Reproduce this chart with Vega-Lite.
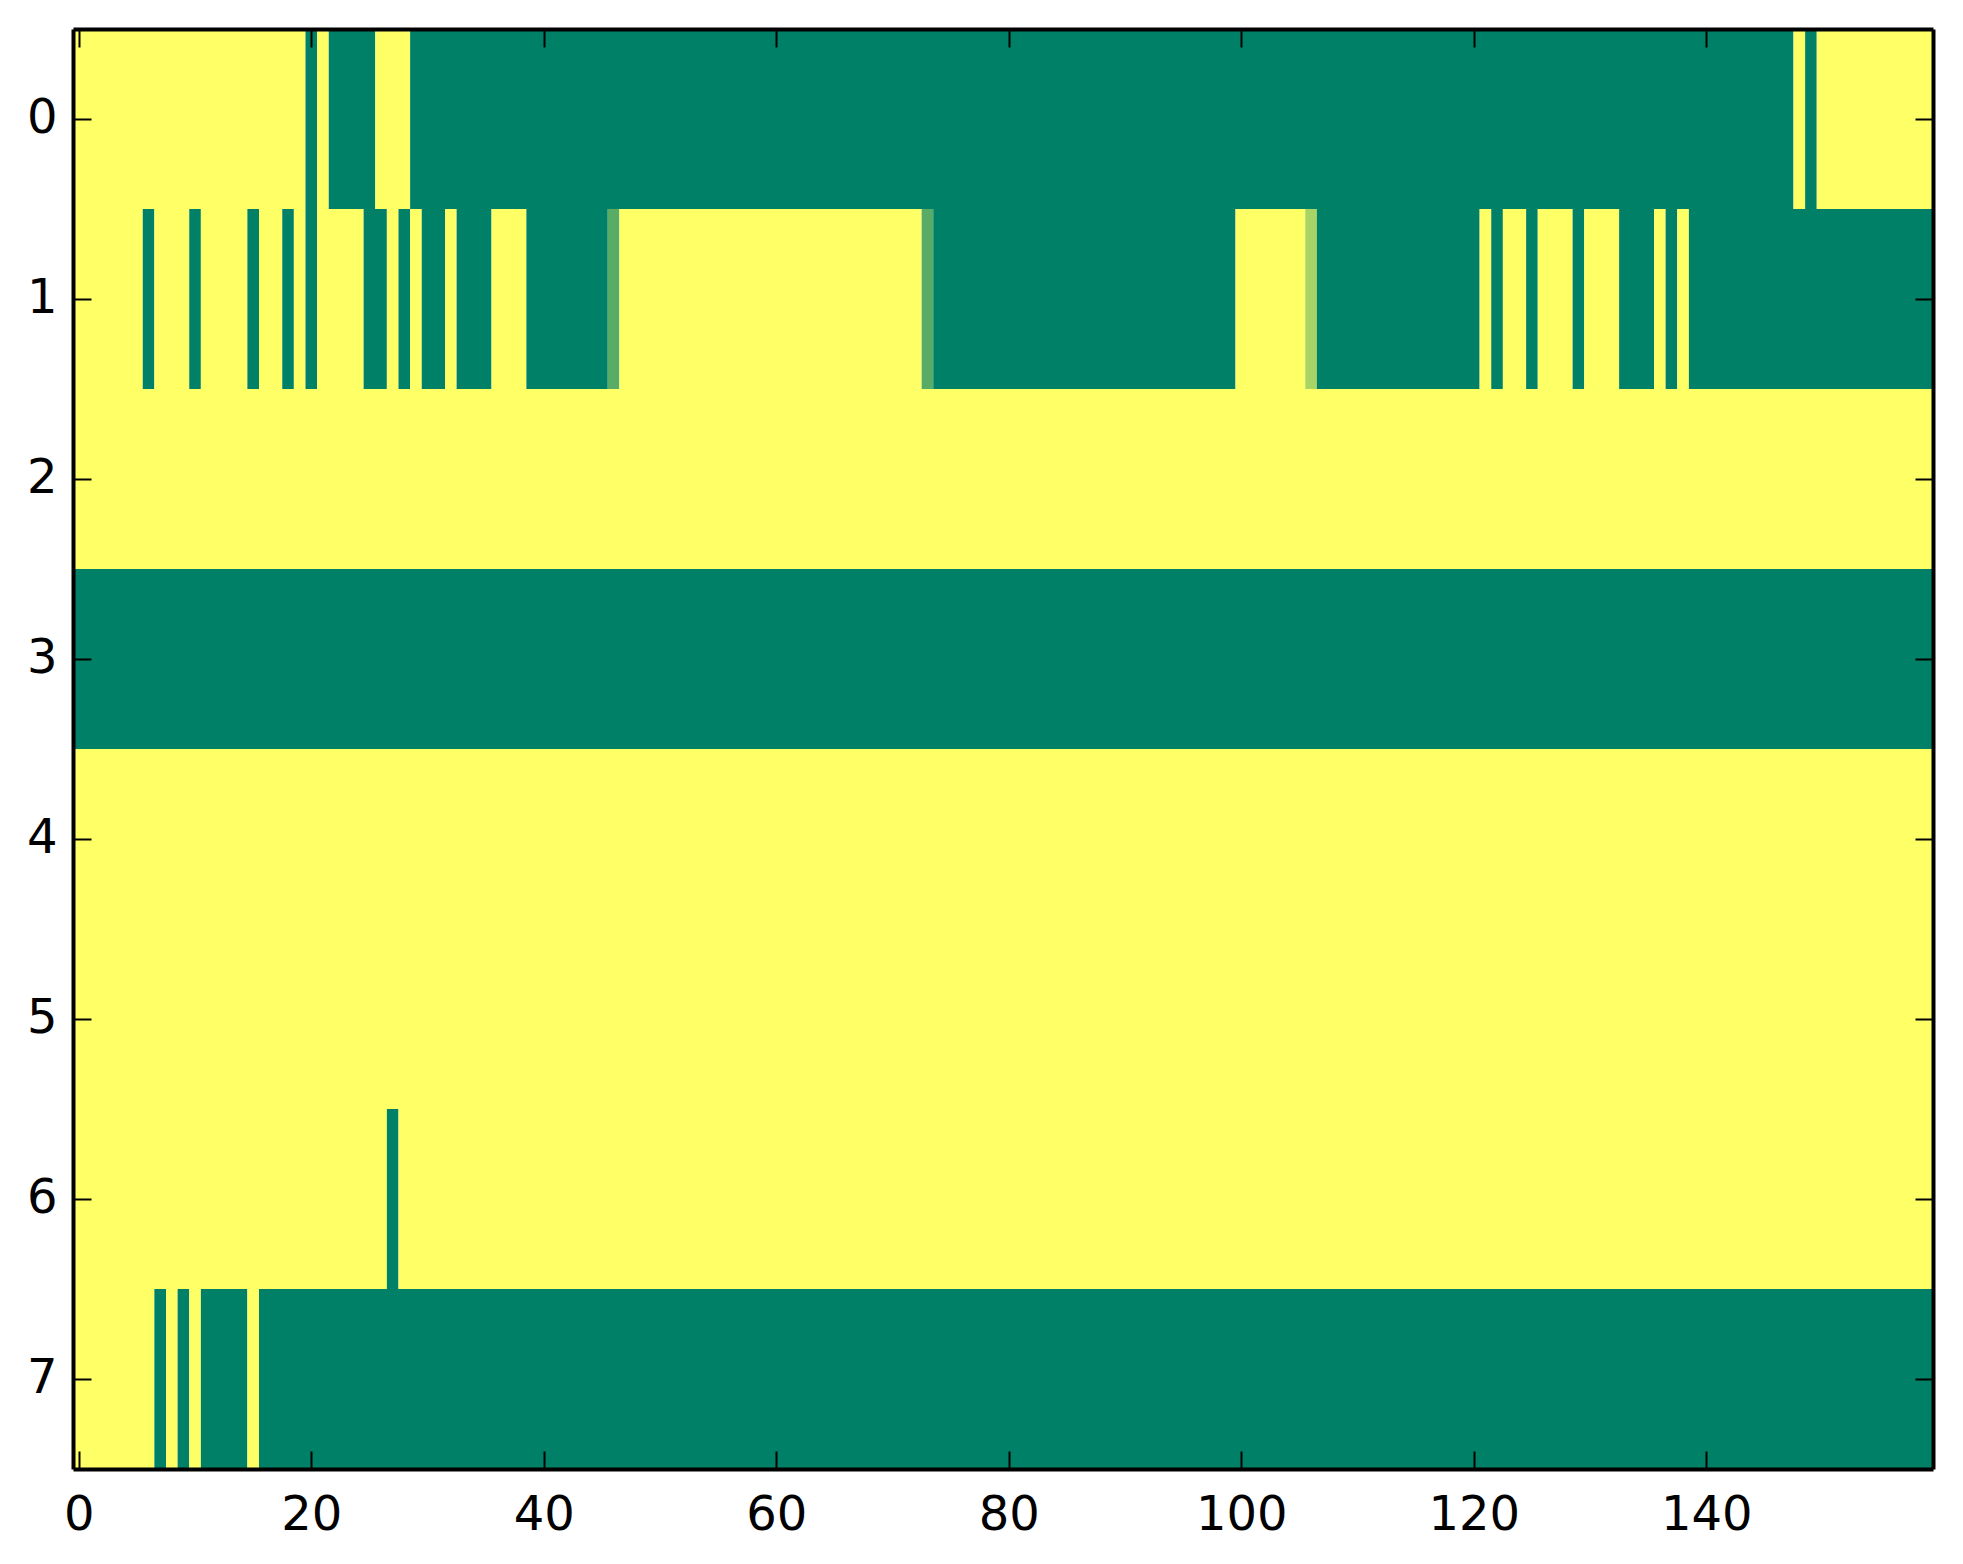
{
  "$schema": "https://vega.github.io/schema/vega-lite/v6.json",
  "autosize": {"type": "none"},
  "padding": {"left": 73, "top": 29, "right": 30, "bottom": 95},
  "width": 1860,
  "height": 1440,
  "background": "white",
  "config": {
    "view": {"stroke": null},
    "axis": {
      "labelFont": "DejaVu Sans",
      "labelFontSize": 48,
      "labelColor": "black",
      "tickColor": "black",
      "tickWidth": 2,
      "tickSize": -18,
      "domain": true,
      "domainColor": "black",
      "domainWidth": 4,
      "grid": false,
      "title": null
    }
  },
  "data": {
    "values": [
      {"row": 0, "x0": -0.5, "x1": 19.5, "v": 1},
      {"row": 0, "x0": 19.5, "x1": 20.5, "v": 0},
      {"row": 0, "x0": 20.5, "x1": 21.5, "v": 1},
      {"row": 0, "x0": 21.5, "x1": 25.5, "v": 0},
      {"row": 0, "x0": 25.5, "x1": 28.5, "v": 1},
      {"row": 0, "x0": 28.5, "x1": 147.5, "v": 0},
      {"row": 0, "x0": 147.5, "x1": 148.5, "v": 1},
      {"row": 0, "x0": 148.5, "x1": 149.5, "v": 0},
      {"row": 0, "x0": 149.5, "x1": 159.5, "v": 1},

      {"row": 1, "x0": -0.5, "x1": 5.5, "v": 1},
      {"row": 1, "x0": 5.5, "x1": 6.5, "v": 0},
      {"row": 1, "x0": 6.5, "x1": 9.5, "v": 1},
      {"row": 1, "x0": 9.5, "x1": 10.5, "v": 0},
      {"row": 1, "x0": 10.5, "x1": 14.5, "v": 1},
      {"row": 1, "x0": 14.5, "x1": 15.5, "v": 0},
      {"row": 1, "x0": 15.5, "x1": 17.5, "v": 1},
      {"row": 1, "x0": 17.5, "x1": 18.5, "v": 0},
      {"row": 1, "x0": 18.5, "x1": 19.5, "v": 1},
      {"row": 1, "x0": 19.5, "x1": 20.5, "v": 0},
      {"row": 1, "x0": 20.5, "x1": 24.5, "v": 1},
      {"row": 1, "x0": 24.5, "x1": 26.5, "v": 0},
      {"row": 1, "x0": 26.5, "x1": 27.5, "v": 1},
      {"row": 1, "x0": 27.5, "x1": 28.5, "v": 0},
      {"row": 1, "x0": 28.5, "x1": 29.5, "v": 1},
      {"row": 1, "x0": 29.5, "x1": 31.5, "v": 0},
      {"row": 1, "x0": 31.5, "x1": 32.5, "v": 1},
      {"row": 1, "x0": 32.5, "x1": 35.5, "v": 0},
      {"row": 1, "x0": 35.5, "x1": 38.5, "v": 1},
      {"row": 1, "x0": 38.5, "x1": 45.5, "v": 0},
      {"row": 1, "x0": 45.5, "x1": 46.5, "v": 0.345},
      {"row": 1, "x0": 46.5, "x1": 72.5, "v": 1},
      {"row": 1, "x0": 72.5, "x1": 73.5, "v": 0.345},
      {"row": 1, "x0": 73.5, "x1": 99.5, "v": 0},
      {"row": 1, "x0": 99.5, "x1": 105.5, "v": 1},
      {"row": 1, "x0": 105.5, "x1": 106.5, "v": 0.66},
      {"row": 1, "x0": 106.5, "x1": 120.5, "v": 0},
      {"row": 1, "x0": 120.5, "x1": 121.5, "v": 1},
      {"row": 1, "x0": 121.5, "x1": 122.5, "v": 0},
      {"row": 1, "x0": 122.5, "x1": 124.5, "v": 1},
      {"row": 1, "x0": 124.5, "x1": 125.5, "v": 0},
      {"row": 1, "x0": 125.5, "x1": 128.5, "v": 1},
      {"row": 1, "x0": 128.5, "x1": 129.5, "v": 0},
      {"row": 1, "x0": 129.5, "x1": 132.5, "v": 1},
      {"row": 1, "x0": 132.5, "x1": 135.5, "v": 0},
      {"row": 1, "x0": 135.5, "x1": 136.5, "v": 1},
      {"row": 1, "x0": 136.5, "x1": 137.5, "v": 0},
      {"row": 1, "x0": 137.5, "x1": 138.5, "v": 1},
      {"row": 1, "x0": 138.5, "x1": 159.5, "v": 0},

      {"row": 2, "x0": -0.5, "x1": 159.5, "v": 1},
      {"row": 3, "x0": -0.5, "x1": 159.5, "v": 0},
      {"row": 4, "x0": -0.5, "x1": 159.5, "v": 1},
      {"row": 5, "x0": -0.5, "x1": 159.5, "v": 1},

      {"row": 6, "x0": -0.5, "x1": 26.5, "v": 1},
      {"row": 6, "x0": 26.5, "x1": 27.5, "v": 0},
      {"row": 6, "x0": 27.5, "x1": 159.5, "v": 1},

      {"row": 7, "x0": -0.5, "x1": 6.5, "v": 1},
      {"row": 7, "x0": 6.5, "x1": 7.5, "v": 0},
      {"row": 7, "x0": 7.5, "x1": 8.5, "v": 1},
      {"row": 7, "x0": 8.5, "x1": 9.5, "v": 0},
      {"row": 7, "x0": 9.5, "x1": 10.5, "v": 1},
      {"row": 7, "x0": 10.5, "x1": 14.5, "v": 0},
      {"row": 7, "x0": 14.5, "x1": 15.5, "v": 1},
      {"row": 7, "x0": 15.5, "x1": 159.5, "v": 0}
    ]
  },
  "layer": [
    {
      "mark": {"type": "rect", "strokeWidth": 0},
      "encoding": {
        "x": {
          "field": "x0",
          "type": "quantitative",
          "scale": {"domain": [-0.5, 159.5], "nice": false, "zero": false},
          "axis": {"orient": "bottom", "values": [0, 20, 40, 60, 80, 100, 120, 140], "labelPadding": 40, "zindex": 2}
        },
        "x2": {"field": "x1"},
        "y": {
          "field": "row",
          "type": "ordinal",
          "scale": {"paddingInner": 0, "paddingOuter": 0},
          "axis": {"orient": "left", "labelAngle": 0, "labelPadding": 34, "zindex": 2}
        },
        "color": {
          "field": "v",
          "type": "quantitative",
          "scale": {"domain": [0, 1], "range": ["#008066", "#ffff66"], "interpolate": "rgb"},
          "legend": null
        }
      }
    },
    {
      "mark": {"type": "rect", "opacity": 0},
      "encoding": {
        "x": {
          "field": "x0",
          "type": "quantitative",
          "axis": {"orient": "top", "values": [0, 20, 40, 60, 80, 100, 120, 140], "labels": false, "zindex": 2}
        },
        "x2": {"field": "x1"},
        "y": {
          "field": "row",
          "type": "ordinal",
          "axis": {"orient": "right", "labels": false, "zindex": 2}
        }
      }
    }
  ],
  "resolve": {"axis": {"x": "independent", "y": "independent"}}
}
